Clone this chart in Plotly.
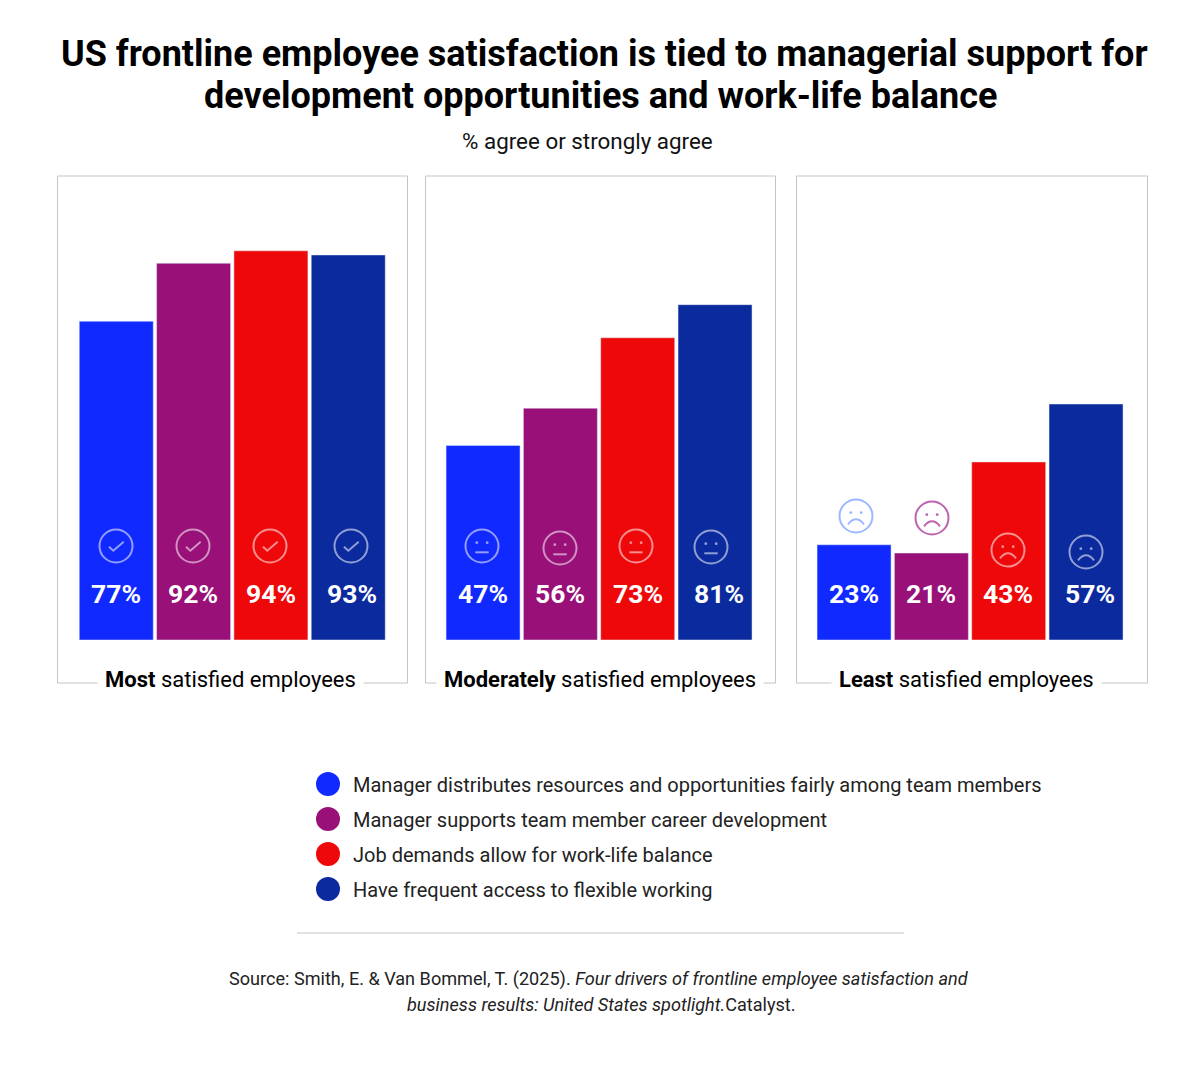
import plotly.graph_objects as go

W, H = 1201, 1067
# the page body has an 8px margin, so the figure is that much smaller
PAGE_MARGIN = 8
FIG_W, FIG_H = W - 2 * PAGE_MARGIN, H - 2 * PAGE_MARGIN

# data
groups = ["Most", "Moderately", "Least"]
drivers = [
    "Manager distributes resources and opportunities fairly among team members",
    "Manager supports team member career development",
    "Job demands allow for work-life balance",
    "Have frequent access to flexible working",
]
most_labels = [77, 92, 94, 93]
moderate_labels = [47, 56, 73, 81]
least_labels = [23, 21, 43, 57]
# bar heights as drawn in the picture (the 92% bar is drawn nearer 91)
most_heights = [77, 91, 94, 93]
moderate_heights = [47, 56, 73, 81]
least_heights = [23, 21, 43, 57]
colors = ["#1029FF", "#981078", "#EE0809", "#0B2A9E"]

# layout, in page pixels
panel_left = [57.5, 425.5, 796.5]
panel_right = [407.5, 775.5, 1147.5]
bar_left = [77.6, 444.4, 815.4]
bar_right = [386.9, 753.7, 1124.7]
panel_top, baseline, panel_bottom = 176, 640, 683
y_max = (baseline - panel_top) / 4.14
label_x = [[116, 193, 271, 352], [482.5, 560, 637.5, 718.5], [854, 931, 1008, 1090]]
icon_x = [[116, 193, 270, 351], [482, 560, 636, 711], [856, 932, 1008, 1086]]
icon_y = [[546, 546, 546, 546], [546, 548, 546, 547], [516, 518, 550, 552]]
icon_color = [
    ["rgba(255,255,255,.55)"] * 4,
    ["rgba(255,255,255,.55)"] * 4,
    ["#9DB8FF", "#BE63AE", "rgba(255,255,255,.55)", "rgba(255,255,255,.55)"],
]
caption_x = [230, 599.5, 966]
panel_labels = [most_labels, moderate_labels, least_labels]
panel_heights = [most_heights, moderate_heights, least_heights]


def px(x):
    return (x - PAGE_MARGIN) / FIG_W


def py(y):
    return 1 - (y - PAGE_MARGIN) / FIG_H


def text(x, y, s, size, color="#000", anchor="center", **kw):
    return dict(xref="paper", yref="paper", x=px(x), y=py(y), text=s, showarrow=False,
                xanchor=anchor, yanchor="middle", font=dict(family="Roboto", size=size, color=color), **kw)


def line_path(points):
    return "M " + " L ".join(f"{px(x)} {py(y)}" for x, y in points)


def icon_shapes(kind, cx, cy, color):
    style = dict(type="path", xref="paper", yref="paper", line=dict(color=color, width=2), layer="above")
    out = [dict(type="circle", xref="paper", yref="paper", x0=px(cx - 16.5), x1=px(cx + 16.5), y0=py(cy - 16.5), y1=py(cy + 16.5),
                line=dict(color=color, width=2), layer="above")]
    if kind == 0:
        out.append(dict(path=line_path([(cx - 7, cy + 0.7), (cx - 2.7, cy + 4.7), (cx + 7.7, cy - 4.3)]), **style))
        return out
    for ex in (-5.2, 5.2):
        out.append(dict(type="circle", xref="paper", yref="paper", x0=px(cx + ex - 1.4), x1=px(cx + ex + 1.4),
                        y0=py(cy - 4.7), y1=py(cy - 1.9), fillcolor=color, line=dict(width=0), layer="above"))
    if kind == 1:
        out.append(dict(path=line_path([(cx - 6.7, cy + 6.3), (cx + 6.7, cy + 6.3)]), **style))
    else:
        out.append(dict(path=f"M {px(cx - 8)} {py(cy + 8.3)} Q {px(cx)} {py(cy - 1.7)} {px(cx + 8)} {py(cy + 8.3)}", **style))
    return out


fig = go.Figure()
shapes, annotations = [], []

for i, group in enumerate(groups):
    suffix = "" if i == 0 else str(i + 1)
    fig.add_trace(go.Bar(
        x=drivers, y=panel_heights[i],
        marker=dict(color=colors),
        width=0.957,
        xaxis="x" + suffix, yaxis="y" + suffix,
        hovertemplate="%{x}<extra></extra>",
        showlegend=False,
    ))
    fig.update_layout({
        "xaxis" + suffix: dict(domain=[px(bar_left[i]), px(bar_right[i])], anchor="y" + suffix, visible=False,
                               categoryorder="array", categoryarray=drivers, range=[-0.5, 3.5]),
        "yaxis" + suffix: dict(domain=[py(baseline), py(panel_top)], anchor="x" + suffix, visible=False, range=[0, y_max]),
    })

    shapes.append(dict(type="rect", xref="paper", yref="paper", x0=px(panel_left[i]), x1=px(panel_right[i]),
                       y0=py(panel_bottom), y1=py(panel_top), line=dict(color="#C4C4C4", width=1), layer="below"))
    annotations.append(text(caption_x[i], 679.5, f"<b>{group}</b> satisfied employees", 22,
                            bgcolor="white", borderpad=7))
    for j, value in enumerate(panel_labels[i]):
        annotations.append(text(label_x[i][j], 593, f"<b>{value}%</b>", 26.5, "white"))
        shapes += icon_shapes(i, icon_x[i][j], icon_y[i][j], icon_color[i][j])

# legend drawn by hand, plotly caps the legend marker size
for y, name, color in zip([784, 819, 854, 889], drivers, colors):
    shapes.append(dict(type="circle", xref="paper", yref="paper", x0=px(316), x1=px(340), y0=py(y - 12), y1=py(y + 12),
                       fillcolor=color, line=dict(width=0)))
    annotations.append(text(350.5, y + 1, name, 20, "#222222", anchor="left"))

shapes.append(dict(type="line", xref="paper", yref="paper", x0=px(297), x1=px(904), y0=py(933), y1=py(933),
                   line=dict(color="#E2E2E2", width=2)))

annotations += [
    text(604.5, 54.5, "<b>US frontline employee satisfaction is tied to managerial support for</b>", 36),
    text(600.5, 95.5, "<b>development opportunities and work-life balance</b>", 36),
    text(587, 141, "% agree or strongly agree", 22.4, "#111111"),
    text(598.5, 979, "Source: Smith, E. &amp; Van Bommel, T. (2025). <i>Four drivers of frontline employee satisfaction and</i>", 18.1, "#222222"),
    text(601, 1004.5, "<i>business results: United States spotlight.</i>Catalyst.", 18.1, "#222222"),
]

fig.update_layout(
    width=FIG_W, height=FIG_H,
    margin=dict(l=0, r=0, t=0, b=0),
    paper_bgcolor="white", plot_bgcolor="rgba(0,0,0,0)",
    shapes=shapes, annotations=annotations,
    showlegend=False,
)

fig.write_html("out.html")
